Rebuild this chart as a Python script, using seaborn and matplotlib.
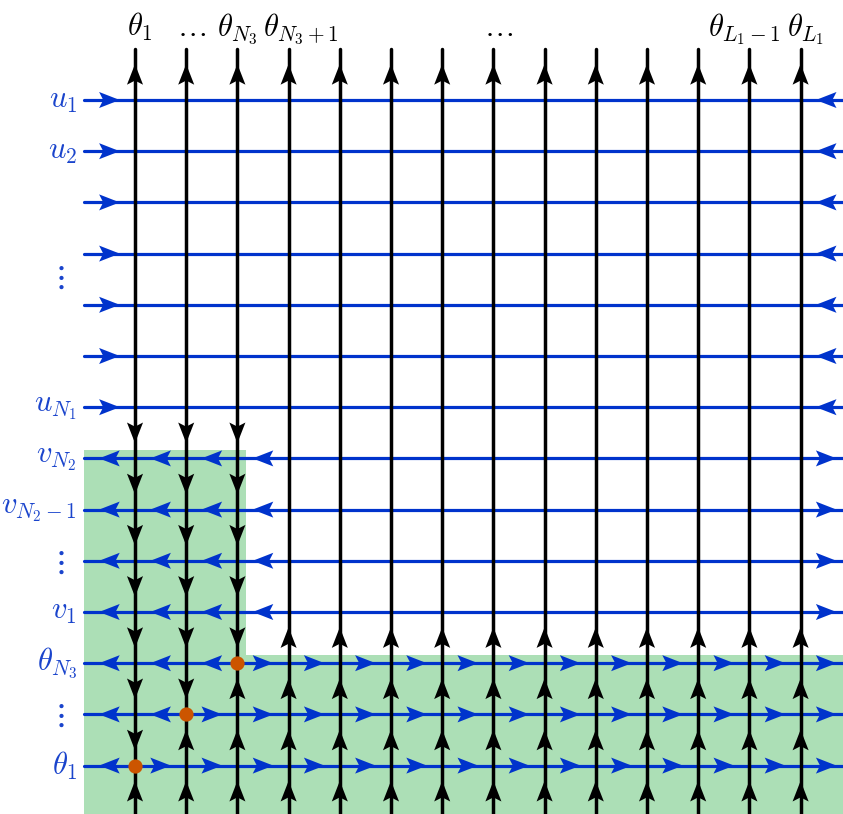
import numpy as np
import pandas as pd
import matplotlib
matplotlib.use("Agg")
import matplotlib.pyplot as plt
from matplotlib.path import Path
import seaborn as sns

# Lattice structure
n_cols = 14                  # vertical (theta) lines
n_u, n_v, n_t = 7, 4, 3      # horizontal u, v and theta rows
dot_cols = [2, 1, 0]         # column of the marked vertex on each theta row (top to bottom)

top_labels = [(0, r"$\theta_1$"), (1, r"$\ldots$"), (2, r"$\theta_{N_3}$"),
              (3, r"$\theta_{N_3+1}$"), (7, r"$\ldots$"),
              (12, r"$\theta_{L_1-1}$"), (13, r"$\theta_{L_1}$")]
left_labels = [(0, r"$u_1$"), (1, r"$u_2$"), (6, r"$u_{N_1}$"),
               (7, r"$v_{N_2}$"), (8, r"$v_{N_2-1}$"), (10, r"$v_1$"),
               (11, r"$\theta_{N_3}$"), (13, r"$\theta_1$")]
left_vdots = [3.45, 9, 12]

BLUE = "#0033cc"
LABEL_BLUE = "#1a44cc"
GREEN = "#acdfb6"
ORANGE = "#cc5500"

sns.set_theme(style="white")
plt.rcParams["mathtext.fontset"] = "cm"
plt.rcParams["font.family"] = ["DejaVu Sans"]

n_rows = n_u + n_v + n_t
row_v0 = n_u
row_t0 = n_u + n_v

# ---- line segments
hlines = pd.DataFrame([(r, x, r) for r in range(n_rows) for x in (-1, n_cols)],
                      columns=["seg", "x", "y"])
vlines = pd.DataFrame([(c, c, y) for c in range(n_cols) for y in (-1, n_rows)],
                      columns=["seg", "x", "y"])

# ---- arrowheads
arrows = []
for c in range(n_cols):
    arrows.append((c, -0.5, "up"))
    if c < len(dot_cols):
        dot_row = row_t0 + dot_cols.index(c)
        for y in np.arange(n_u - 0.5, dot_row, 1.0):
            arrows.append((c, y, "down"))
        for y in np.arange(dot_row + 0.5, n_rows, 1.0):
            arrows.append((c, y, "up"))
    else:
        for y in np.arange(row_t0 - 0.5, n_rows, 1.0):
            arrows.append((c, y, "up"))
for r in range(n_rows):
    if r < row_v0:
        arrows.append((-0.5, r, "right"))
        arrows.append((n_cols - 0.5, r, "left"))
    elif r < row_t0:
        for x in np.arange(-0.5, len(dot_cols), 1.0):
            arrows.append((x, r, "left"))
        arrows.append((n_cols - 0.5, r, "right"))
    else:
        dc = dot_cols[r - row_t0]
        for x in np.arange(-0.5, dc, 1.0):
            arrows.append((x, r, "left"))
        for x in np.arange(dc + 0.5, n_cols, 1.0):
            arrows.append((x, r, "right"))
arrows = pd.DataFrame(arrows, columns=["x", "y", "dir"])
black_arrows = arrows[arrows["dir"].isin(["up", "down"])]
blue_arrows = arrows[arrows["dir"].isin(["left", "right"])]

dots = pd.DataFrame({"x": dot_cols, "y": [row_t0 + k for k in range(n_t)]})


def stealth(angle_deg):
    """Stealth-style arrowhead pointing along angle_deg, centred on the origin."""
    base = np.array([[10, 0], [-10, 7.8], [-6, 0], [-10, -7.8], [10, 0]], float)
    a = np.deg2rad(angle_deg)
    rot = np.array([[np.cos(a), -np.sin(a)], [np.sin(a), np.cos(a)]])
    verts = base @ rot.T
    codes = [Path.MOVETO, Path.LINETO, Path.LINETO, Path.LINETO, Path.CLOSEPOLY]
    return Path(verts, codes)


markers = {"right": stealth(0), "up": stealth(90), "left": stealth(180), "down": stealth(270)}

fig = plt.figure(figsize=(8.43, 8.14), dpi=100)
ax = fig.add_axes([0, 0, 1, 1])

# shaded regions
pad = 0.16
ax.fill_between([-1, len(dot_cols) - 1 + pad], row_v0 - pad, n_rows,
                color=GREEN, lw=0, zorder=0)
ax.fill_between([-1, n_cols], row_t0 - pad, n_rows, color=GREEN, lw=0, zorder=0)

sns.lineplot(data=hlines, x="x", y="y", units="seg", estimator=None, sort=False,
             color=BLUE, lw=2.3, ax=ax, zorder=2)
sns.lineplot(data=vlines, x="x", y="y", units="seg", estimator=None, sort=False,
             color="black", lw=2.5, ax=ax, zorder=3)

sns.scatterplot(data=blue_arrows, x="x", y="y", style="dir",
                markers={k: markers[k] for k in ["left", "right"]},
                color=BLUE, s=220, linewidth=0, legend=False, ax=ax, zorder=4)
sns.scatterplot(data=black_arrows, x="x", y="y", style="dir",
                markers={k: markers[k] for k in ["up", "down"]},
                color="black", s=220, linewidth=0, legend=False, ax=ax, zorder=4)
sns.scatterplot(data=dots, x="x", y="y", color=ORANGE, s=105, linewidth=0,
                legend=False, ax=ax, zorder=5)

# labels: long neighbouring column labels are pushed apart so they abut
top_anchor = {2: (0.0, "center"), 3: (-0.5, "left"), 12: (0.62, "right")}
for c, t in top_labels:
    dx, ha = top_anchor.get(c, (0.1, "center"))
    ax.text(c + dx, -1.25, t, ha=ha, va="baseline", fontsize=22, color="black")
for r, t in left_labels:
    ax.text(-1.13, r, t, ha="right", va="center", fontsize=22, color=LABEL_BLUE)
for r in left_vdots:
    ax.text(-1.5, r, r"$\vdots$", ha="center", va="center", fontsize=24, color=LABEL_BLUE)

ax.set_xlim(-135 / 51.2, (843 - 135) / 51.2)
ax.set_ylim((814 - 100) / 51.2, -100 / 51.2)
ax.axis("off")

fig.savefig("out.png", dpi=100)
